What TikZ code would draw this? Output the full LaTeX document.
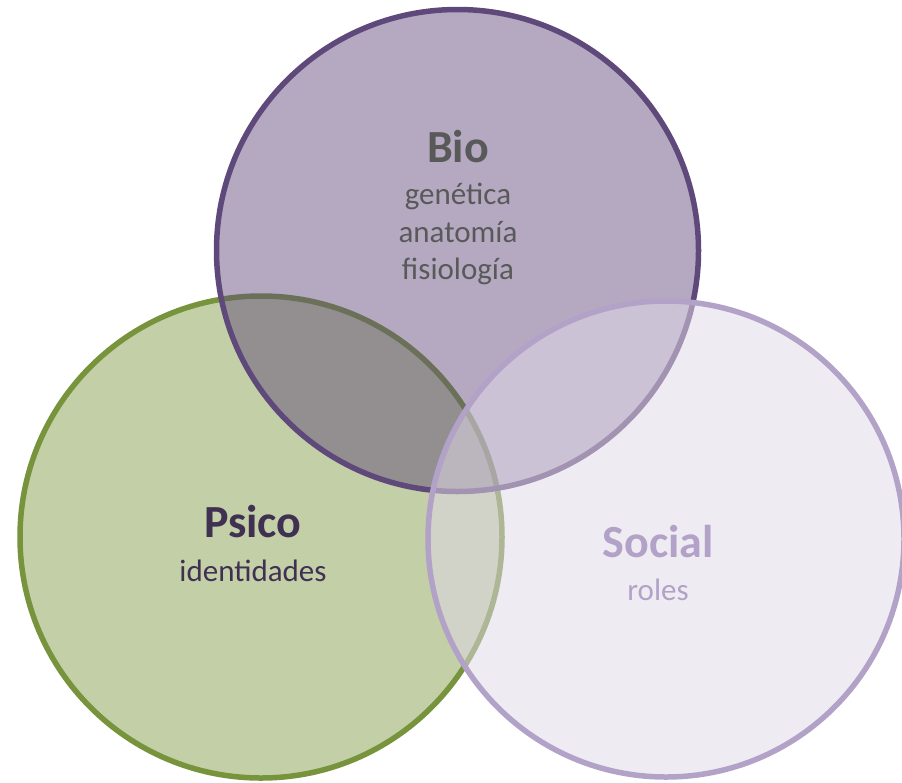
\documentclass[tikz,border=0pt]{standalone}
\usepackage{fontspec}
\setmainfont{Carlito}
\usetikzlibrary{positioning}
\definecolor{psicofill}{RGB}{195,207,167}
\definecolor{psicoline}{RGB}{119,147,60}
\definecolor{bioline}{RGB}{95,73,122}
\definecolor{socialline}{RGB}{179,162,199}
\definecolor{socialfill}{RGB}{224,216,232}
\definecolor{biotext}{RGB}{89,89,89}
\definecolor{psicotext}{RGB}{64,49,82}
\begin{document}
\begin{tikzpicture}[x=1pt,y=-1pt]
\tikzstyle{ring}=[circle,minimum size=482pt,inner sep=0pt,line width=5.5pt]
\tikzstyle{head}=[font=\fontsize{46}{50}\selectfont\bfseries,anchor=base,inner sep=0pt]
\tikzstyle{sub}=[font=\fontsize{31}{37}\selectfont,anchor=base,inner sep=0pt]
\useasboundingbox (0,0) rectangle (902,782);
% circles
\node[ring,draw=psicoline,fill=psicofill] (psico) at (261,537) {};
\node[ring,draw=bioline,fill=bioline,fill opacity=0.47] (bio) at (457.5,250.5) {};
\node[ring,minimum size=476pt,draw=socialline,fill=socialfill,fill opacity=0.52] (social) at (666,539) {};
% labels
\node[head,text=biotext] (biot) at (458,162) {Bio};
\node[sub,text=biotext] (gen) at (458,204) {genética};
\node[sub,text=biotext] (ana) at (458,242) {anatomía};
\node[sub,text=biotext] (fis) at (458,279) {fisiología};
\node[head,text=psicotext] (psicot) at (253,537) {Psico};
\node[sub,text=psicotext] (ident) at (253,581) {identidades};
\node[head,text=socialline] (socialt) at (658,557) {Social};
\node[sub,text=socialline] (roles) at (658,600) {roles};
\end{tikzpicture}
\end{document}
